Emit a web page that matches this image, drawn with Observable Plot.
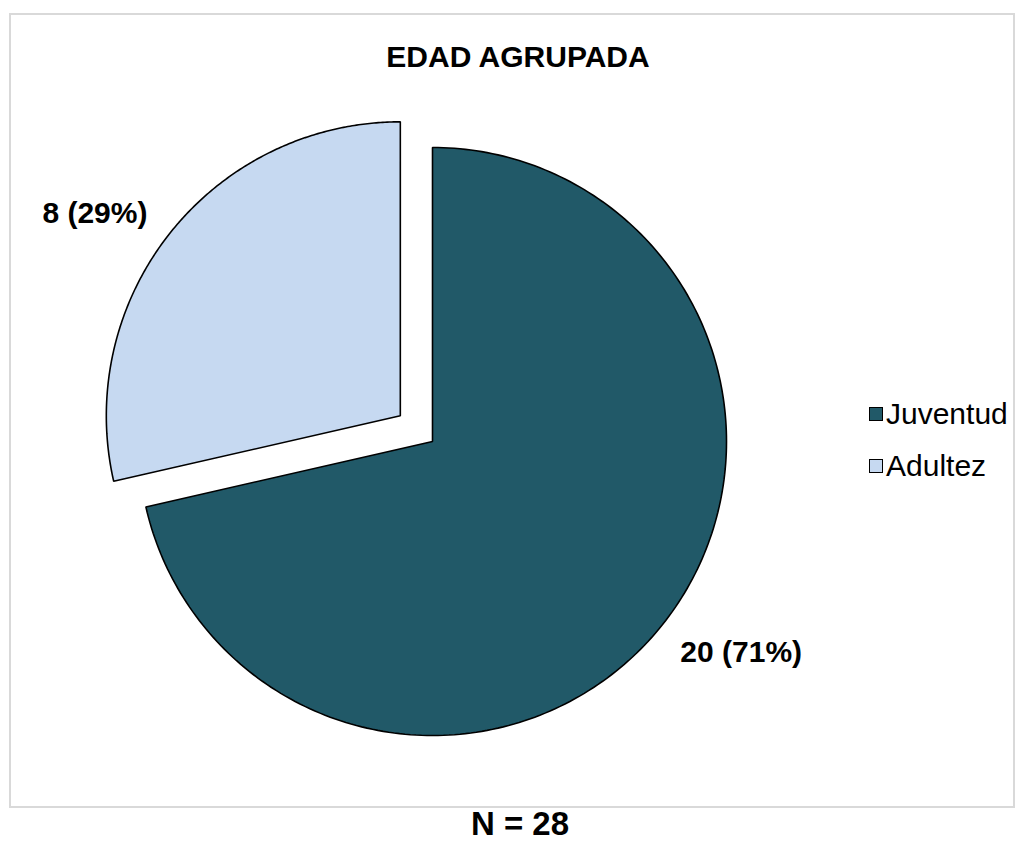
<!DOCTYPE html>
<html>
<head>
<meta charset="utf-8">
<script src="https://cdn.jsdelivr.net/npm/d3@7"></script>
<script src="https://cdn.jsdelivr.net/npm/@observablehq/plot@0.6"></script>
<style>
  html, body { margin: 0; padding: 0; background: #fff; }
  #wrap { position: relative; width: 1024px; height: 859px; overflow: hidden; font-family: "Liberation Sans", Arial, sans-serif; }
  #frame { position: absolute; left: 9px; top: 13px; width: 1002px; height: 791px; border: 2px solid #d9d9d9; }
  #chart { position: absolute; left: 0; top: 0; }
  #title { position: absolute; left: 0; width: 1036px; top: 42px; text-align: center; font-weight: bold; font-size: 30px; line-height: 30px; color: #000; }
  #caption { position: absolute; left: 0; width: 1040px; top: 807px; text-align: center; font-weight: bold; font-size: 33px; line-height: 33px; color: #000; }
  .leg { position: absolute; left: 869px; font-size: 30px; line-height: 30px; color: #000; white-space: nowrap; }
  .leg .sw { position: absolute; left: 0; width: 12px; height: 12px; border: 1.5px solid #000; }
  .leg .lab { position: absolute; left: 17px; top: 0; }
</style>
</head>
<body>
<div id="wrap">
  <div id="frame"></div>
  <div id="chart"></div>
  <div id="title">EDAD AGRUPADA</div>
  <div id="legend"></div>
  <div id="caption">N = 28</div>
</div>
<script>
// ---- data ----
const categories = ["Juventud", "Adultez"];
const counts = [20, 8];
const colors = ["#215968", "#c6d9f1"];
const explodeAmount = [0, 0.14];
const captionText = "N = 28";

// ---- geometry (unit circle, y pointing down) ----
const total = d3.sum(counts);
const pie = d3.pie().sort(null).startAngle(0).endAngle(2 * Math.PI)(counts);
const slices = pie.map((p, i) => {
  const mid = (p.startAngle + p.endAngle) / 2;
  const ox = explodeAmount[i] * Math.sin(mid);
  const oy = -explodeAmount[i] * Math.cos(mid);
  return { cat: categories[i], value: counts[i], a0: p.startAngle, a1: p.endAngle, mid, ox, oy };
});

const outline = [];
for (const s of slices) {
  outline.push({ cat: s.cat, x: s.ox, y: s.oy });
  const steps = 240;
  for (let k = 0; k <= steps; k++) {
    const a = s.a0 + (s.a1 - s.a0) * k / steps;
    outline.push({ cat: s.cat, x: s.ox + Math.sin(a), y: s.oy - Math.cos(a) });
  }
}

const labels = slices.map(s => ({
  cat: s.cat,
  x: s.ox + Math.sin(s.mid),
  y: s.oy - Math.cos(s.mid),
  text: `${s.value} (${Math.round(s.value / total * 100)}%)`
}));

// ---- scales: centre at (432, 441) px, radius 294 px ----
const W = 1024, H = 859, CX = 432, CY = 441, R = 294;

const plot = Plot.plot({
  width: W,
  height: H,
  margin: 0,
  style: { background: "transparent", overflow: "visible" },
  x: { domain: [-CX / R, (W - CX) / R], range: [0, W], axis: null },
  y: { domain: [-CY / R, (H - CY) / R], range: [0, H], axis: null },
  color: { domain: categories, range: colors },
  marks: [
    Plot.line(outline, {
      x: "x", y: "y", z: "cat", fill: "cat",
      stroke: "#000", strokeWidth: 1.6, strokeLinejoin: "miter",
      curve: "linear-closed"
    }),
    Plot.text(labels.filter(d => d.x >= 0), {
      x: "x", y: "y", text: "text", textAnchor: "start", dx: 18, dy: 28,
      fontSize: 30, fontWeight: "bold", fontFamily: "Liberation Sans, Arial, sans-serif", fill: "#000"
    }),
    Plot.text(labels.filter(d => d.x < 0), {
      x: "x", y: "y", text: "text", textAnchor: "end", dx: -23, dy: -19,
      fontSize: 30, fontWeight: "bold", fontFamily: "Liberation Sans, Arial, sans-serif", fill: "#000"
    })
  ]
});
document.getElementById("chart").appendChild(plot);

// ---- legend ----
const legend = document.getElementById("legend");
const legTops = [399, 451];
categories.forEach((c, i) => {
  const item = document.createElement("div");
  item.className = "leg";
  item.style.top = legTops[i] + "px";
  const sw = document.createElement("div");
  sw.className = "sw";
  sw.style.background = colors[i];
  sw.style.top = "8px";
  const lab = document.createElement("div");
  lab.className = "lab";
  lab.textContent = c;
  item.appendChild(sw);
  item.appendChild(lab);
  legend.appendChild(item);
});
document.getElementById("caption").textContent = captionText;
</script>
</body>
</html>
